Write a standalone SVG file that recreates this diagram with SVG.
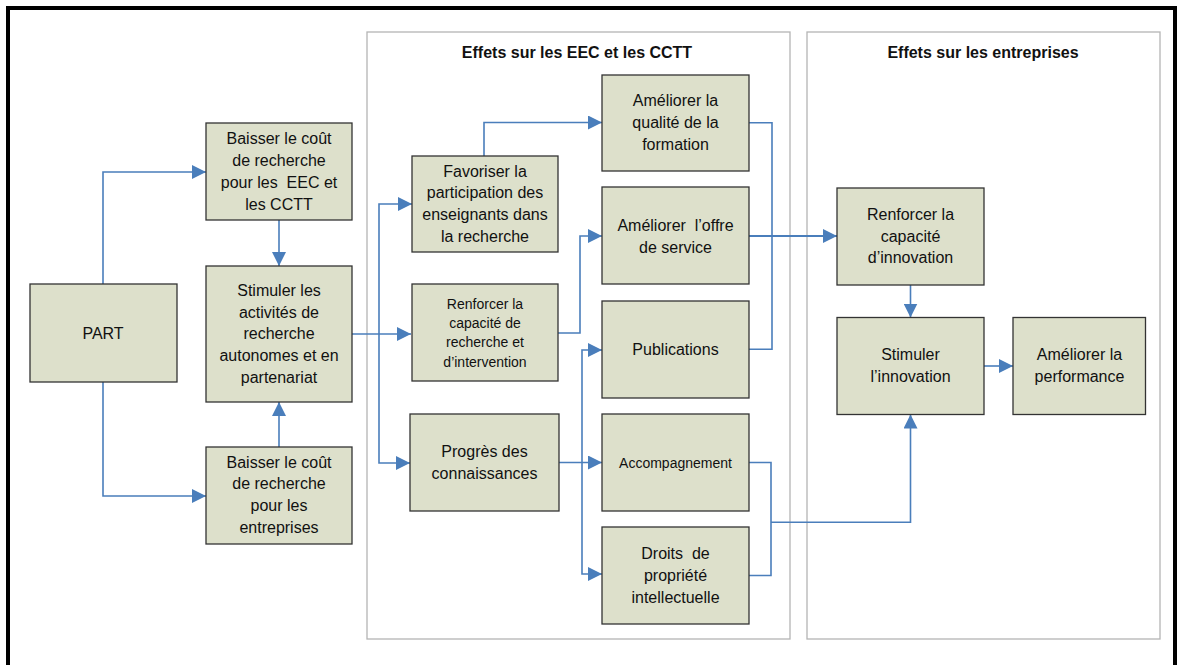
<svg xmlns="http://www.w3.org/2000/svg" width="1179" height="665" viewBox="0 0 1179 665">
<style>
.frame{fill:none;stroke:#000;stroke-width:4}
.grp{fill:none;stroke:#b4b4b4;stroke-width:1.3}
.node rect{fill:#dde0cb;stroke:#333;stroke-width:1.3}
text{font-family:"Liberation Sans",Arial,sans-serif;fill:#111;text-anchor:middle;white-space:pre}
.t16{font-size:16px}
.t14{font-size:14px}
.title{font-size:16px;font-weight:bold}
.conn path{fill:none;stroke:#4a7ebb;stroke-width:1.6}
.conn path.arr{marker-end:url(#ah)}
</style>
<defs>
<marker id="ah" markerUnits="userSpaceOnUse" markerWidth="14" markerHeight="14" refX="14" refY="7" orient="auto">
<path d="M0,0 L14,7 L0,14 z" fill="#4a7ebb"/>
</marker>
</defs>
<rect width="1179" height="665" fill="#fff"/>
<path class="frame" d="M8,665 V8 H1175 V665"/>
<g id="group-eec">
<rect class="grp" x="367" y="32" width="423" height="607"/>
<text class="title" x="577" y="58">Effets sur les EEC et les CCTT</text>
</g>
<g id="group-entreprises">
<rect class="grp" x="807" y="32" width="353" height="607"/>
<text class="title" x="983" y="58">Effets sur les entreprises</text>
</g>
<g class="conn" id="connectors">
<path class="arr" d="M103,284 V172 H206"/>
<path class="arr" d="M103,382 V496 H206"/>
<path class="arr" d="M279,220 V266"/>
<path class="arr" d="M279,447 V402"/>
<path class="arr" d="M352,334 H411"/>
<path class="arr" d="M379,334 V204 H412"/>
<path class="arr" d="M379,334 V463 H410"/>
<path class="arr" d="M484,156 V122.5 H602"/>
<path class="arr" d="M558,333 H580 V236 H602"/>
<path class="arr" d="M559,462.5 H602"/>
<path class="arr" d="M582,462.5 V350 H602"/>
<path class="arr" d="M582,462.5 V574 H602"/>
<path d="M749,122.7 H772 V349.3 H749"/>
<path class="arr" d="M749,236 H837" style="stroke-width:2.2"/>
<path class="arr" d="M910.5,285 V317.5"/>
<path class="arr" d="M984,366 H1013"/>
<path d="M749,462.5 H771 V575.5 H749"/>
<path class="arr" d="M771,522.3 H910.5 V414.5"/>
</g>
<g class="node" id="n-part">
<rect x="30" y="284" width="147" height="98"/>
<text class="t16" x="103" y="339">PART</text>
</g>
<g class="node" id="n-cout-eec">
<rect x="206" y="123" width="146" height="97"/>
<text class="t16" x="279" y="144">Baisser le coût</text>
<text class="t16" x="279" y="166">de recherche</text>
<text class="t16" x="279" y="188">pour les  EEC et</text>
<text class="t16" x="279" y="210">les CCTT</text>
</g>
<g class="node" id="n-stimuler-rech">
<rect x="206" y="266" width="146" height="136"/>
<text class="t16" x="279" y="296">Stimuler les</text>
<text class="t16" x="279" y="317.7">activités de</text>
<text class="t16" x="279" y="339.3">recherche</text>
<text class="t16" x="279" y="361">autonomes et en</text>
<text class="t16" x="279" y="382.7">partenariat</text>
</g>
<g class="node" id="n-cout-ent">
<rect x="206" y="447" width="146" height="97"/>
<text class="t16" x="279" y="467.7">Baisser le coût</text>
<text class="t16" x="279" y="489.3">de recherche</text>
<text class="t16" x="279" y="511">pour les</text>
<text class="t16" x="279" y="532.7">entreprises</text>
</g>
<g class="node" id="n-favoriser">
<rect x="412" y="156" width="146" height="96"/>
<text class="t16" x="485" y="176.7">Favoriser la</text>
<text class="t16" x="485" y="198.3">participation des</text>
<text class="t16" x="485" y="220">enseignants dans</text>
<text class="t16" x="485" y="241.7">la recherche</text>
</g>
<g class="node" id="n-renforcer-rech">
<rect x="412" y="284" width="146" height="97"/>
<text class="t14" x="485" y="309.3">Renforcer la</text>
<text class="t14" x="485" y="328.3">capacité de</text>
<text class="t14" x="485" y="347.3">recherche et</text>
<text class="t14" x="485" y="366.7">d’intervention</text>
</g>
<g class="node" id="n-progres">
<rect x="410" y="414" width="149" height="97"/>
<text class="t16" x="484.5" y="456.7">Progrès des</text>
<text class="t16" x="484.5" y="478.5">connaissances</text>
</g>
<g class="node" id="n-qualite">
<rect x="602" y="75" width="147" height="96"/>
<text class="t16" x="675.5" y="106">Améliorer la</text>
<text class="t16" x="675.5" y="128">qualité de la</text>
<text class="t16" x="675.5" y="150">formation</text>
</g>
<g class="node" id="n-offre">
<rect x="602" y="187" width="147" height="97"/>
<text class="t16" x="675.5" y="230.7">Améliorer  l’offre</text>
<text class="t16" x="675.5" y="252.7">de service</text>
</g>
<g class="node" id="n-publications">
<rect x="602" y="301" width="147" height="97"/>
<text class="t16" x="675.5" y="355">Publications</text>
</g>
<g class="node" id="n-accompagnement">
<rect x="602" y="414" width="147" height="97"/>
<text class="t14" x="675.5" y="468.3">Accompagnement</text>
</g>
<g class="node" id="n-droits">
<rect x="602" y="527" width="147" height="97"/>
<text class="t16" x="675.5" y="559.3">Droits  de</text>
<text class="t16" x="675.5" y="581">propriété</text>
<text class="t16" x="675.5" y="602.7">intellectuelle</text>
</g>
<g class="node" id="n-capacite-innov">
<rect x="837" y="188" width="147" height="97"/>
<text class="t16" x="910.5" y="220">Renforcer la</text>
<text class="t16" x="910.5" y="241.7">capacité</text>
<text class="t16" x="910.5" y="263.3">d’innovation</text>
</g>
<g class="node" id="n-stimuler-innov">
<rect x="837" y="317.5" width="147" height="97"/>
<text class="t16" x="910.5" y="360">Stimuler</text>
<text class="t16" x="910.5" y="381.7">l’innovation</text>
</g>
<g class="node" id="n-performance">
<rect x="1013" y="317.5" width="132.5" height="97"/>
<text class="t16" x="1079.5" y="360">Améliorer la</text>
<text class="t16" x="1079.5" y="381.7">performance</text>
</g>
</svg>
